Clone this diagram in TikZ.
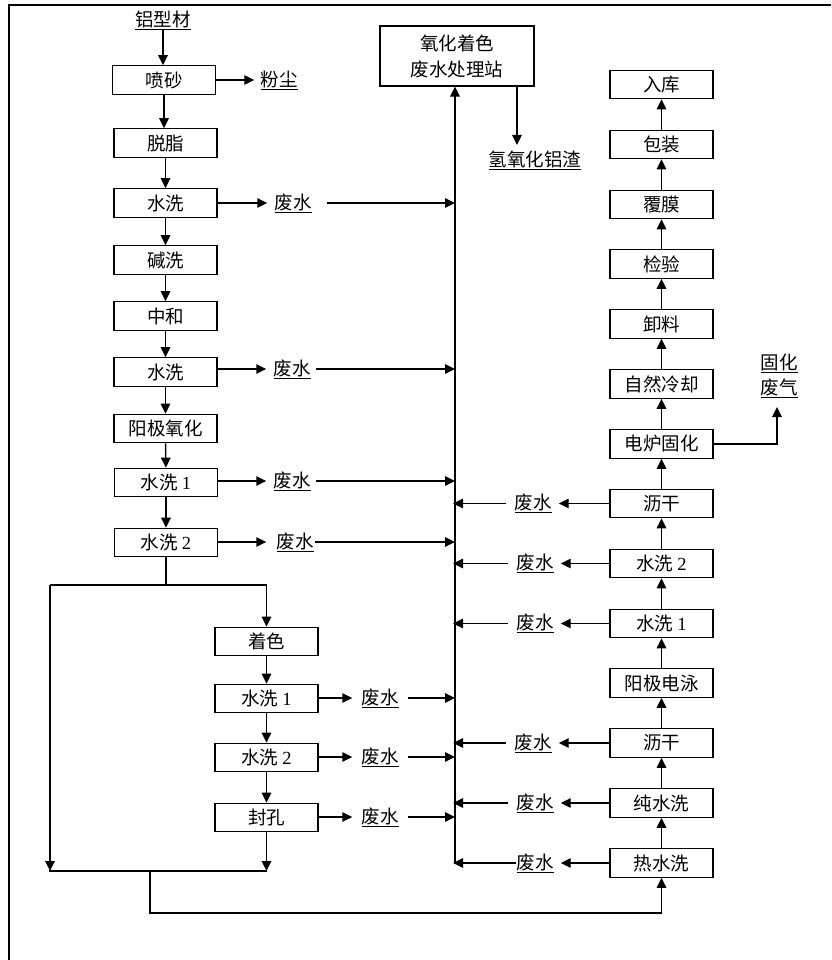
\documentclass[tikz,border=0pt]{standalone}
\usepackage{fontspec}
\setmainfont{Liberation Serif}
\newfontfamily\cjk{Noto Sans CJK SC}
\usetikzlibrary{arrows.meta}
\newcommand\numtxt[1]{{\rmfamily #1}}
\begin{document}
\begin{tikzpicture}[x=1pt,y=-1pt,
  pbox/.style={draw,line width=1.1pt,minimum width=103pt,minimum height=28.5pt,inner sep=0pt,font=\cjk\fontsize{18.5}{20}\selectfont},
  lbl/.style={inner sep=0pt,font=\cjk\fontsize{18.5}{20}\selectfont},
  ln/.style={line width=1.4pt},
  arr/.style={ln,-{Triangle[width=9.5pt,length=10pt]}}]
\useasboundingbox (0,0) rectangle (831,960);
% frame
\draw[line width=1.5pt] (9,960) -- (9,5) -- (831,5);

% left column
\node[lbl] (src) at (163,20) {\underline{铝型材}};
\node[pbox] (ps) at (164,80) {喷砂};
\node[pbox] (tz) at (165.5,143) {脱脂};
\node[pbox] (sa) at (165.5,203) {水洗};
\node[pbox] (jx) at (165.5,260) {碱洗};
\node[pbox] (zh) at (165.5,316) {中和};
\node[pbox] (sb) at (165.5,372) {水洗};
\node[pbox] (yj) at (165.5,428.5) {阳极氧化};
\node[pbox] (s1) at (166,482.5) {水洗 \numtxt{1}};
\node[pbox] (s2) at (166,542.5) {水洗 \numtxt{2}};

\node[lbl] (fc) at (279,80) {\underline{粉尘}};

% lower middle column
\node[pbox] (zs) at (266.5,641.5) {着色};
\node[pbox] (m1) at (266.5,698.5) {水洗 \numtxt{1}};
\node[pbox] (m2) at (266.5,757.5) {水洗 \numtxt{2}};
\node[pbox] (fk) at (266.5,817.5) {封孔};

% station
\node[pbox,minimum width=154pt,minimum height=60pt,align=center,font=\cjk\fontsize{18.5}{26}\selectfont] (st) at (457,56) {氧化着色\\废水处理站};
\node[lbl] (slag) at (535,160) {\underline{氢氧化铝渣}};

% right column
\node[pbox] (rk) at (661.5,84.5) {入库};
\node[pbox] (bz) at (661.5,144.5) {包装};
\node[pbox] (fm) at (661.5,204.5) {覆膜};
\node[pbox] (jy) at (661.5,264) {检验};
\node[pbox] (xl) at (661.5,324) {卸料};
\node[pbox] (zr) at (661.5,384) {自然冷却};
\node[pbox] (dl) at (661.5,444) {电炉固化};
\node[pbox] (la) at (661.5,503.5) {沥干};
\node[pbox] (r2) at (661.5,563.5) {水洗 \numtxt{2}};
\node[pbox] (r1) at (661.5,623.5) {水洗 \numtxt{1}};
\node[pbox] (yd) at (661.5,683) {阳极电泳};
\node[pbox] (lb) at (661.5,743) {沥干};
\node[pbox] (cs) at (661.5,803) {纯水洗};
\node[pbox] (rs) at (661.5,863) {热水洗};

\node[lbl] (gq1) at (779,363) {\underline{固化}};
\node[lbl] (gq2) at (779,388) {\underline{废气}};

% waste labels left
\node[lbl] (wa) at (293,203) {\underline{废水}};
\node[lbl] (wb) at (292,369) {\underline{废水}};
\node[lbl] (w1) at (292,481) {\underline{废水}};
\node[lbl] (w2) at (295,542) {\underline{废水}};
\node[lbl] (wm1) at (380,698) {\underline{废水}};
\node[lbl] (wm2) at (380,757) {\underline{废水}};
\node[lbl] (wfk) at (380,817) {\underline{废水}};
% waste labels right
\node[lbl] (wla) at (533,503.5) {\underline{废水}};
\node[lbl] (wr2) at (535,563.5) {\underline{废水}};
\node[lbl] (wr1) at (535,623.5) {\underline{废水}};
\node[lbl] (wlb) at (533,743) {\underline{废水}};
\node[lbl] (wcs) at (535,803) {\underline{废水}};
\node[lbl] (wrs) at (535,863) {\underline{废水}};

% coordinates
\coordinate (tb) at (455,863);
\coordinate (x517) at (517,145);
\coordinate (jA) at (166,585);
\coordinate (jL) at (50,585);
\coordinate (jR) at (266.5,585);
\coordinate (jLb) at (50,871);
\coordinate (jRb) at (266.5,871);
\coordinate (jM) at (150,871);
\coordinate (jMb) at (150,913);
\coordinate (fq) at (777,444);
\coordinate (fqt) at (777,407);

% main flow left
\draw[arr] (src) -- (ps.north -| src);
\draw[arr] (ps.south) -- (tz.north -| ps);
\draw[arr] (tz) -- (sa);
\draw[arr] (sa) -- (jx);
\draw[arr] (jx) -- (zh);
\draw[arr] (zh) -- (sb);
\draw[arr] (sb) -- (yj);
\draw[arr] (yj) -- (s1);
\draw[arr] (s1) -- (s2);
\draw[arr,shorten >=6pt] (ps.east) -- (fc.west);

% branch
\draw[ln] (s2.south) -- (jA);
\draw[ln] (jL) -- (jR);
\draw[arr] (jR) -- (zs.north);
\draw[arr] (jL) -- (jLb);
\draw[arr] (zs) -- (m1);
\draw[arr] (m1) -- (m2);
\draw[arr] (m2) -- (fk);
\draw[arr] (fk.south) -- (jRb);
\draw[ln] (49,871) -- (jRb);
\draw[arr] (jM) -- (jMb) -| (rs.south);

% right column up
\draw[arr] (rs) -- (cs);
\draw[arr] (cs) -- (lb);
\draw[arr] (lb) -- (yd);
\draw[arr] (yd) -- (r1);
\draw[arr] (r1) -- (r2);
\draw[arr] (r2) -- (la);
\draw[arr] (la) -- (dl);
\draw[arr] (dl) -- (zr);
\draw[arr] (zr) -- (xl);
\draw[arr] (xl) -- (jy);
\draw[arr] (jy) -- (fm);
\draw[arr] (fm) -- (bz);
\draw[arr] (bz) -- (rk);
\draw[arr] (dl.east) -- (fq) -- (fqt);

% trunk & station
\draw[arr] (tb) -- (st.south -| tb);
\draw[arr] (st.south -| x517) -- (x517);

% left waste
\draw[arr,shorten >=7pt] (sa.east) -- (wa.west);
\draw[arr,shorten <=15pt] (wa.east) -- (wa.east -| tb);
\draw[arr,shorten >=7pt] (sb.east |- wb) -- (wb.west);
\draw[arr,shorten <=5pt] (wb.east) -- (wb.east -| tb);
\draw[arr,shorten >=7pt] (s1.east |- w1) -- (w1.west);
\draw[arr,shorten <=5pt] (w1.east) -- (w1.east -| tb);
\draw[arr,shorten >=10pt] (s2.east |- w2) -- (w2.west);
\draw[arr,shorten <=1pt] (w2.east) -- (w2.east -| tb);
\draw[arr,shorten >=9pt] (m1.east |- wm1) -- (wm1.west);
\draw[arr,shorten <=9pt] (wm1.east) -- (wm1.east -| tb);
\draw[arr,shorten >=9pt] (m2.east |- wm2) -- (wm2.west);
\draw[arr,shorten <=9pt] (wm2.east) -- (wm2.east -| tb);
\draw[arr,shorten >=9pt] (fk.east |- wfk) -- (wfk.west);
\draw[arr,shorten <=9pt] (wfk.east) -- (wfk.east -| tb);

% right waste
\foreach \b/\w in {la/wla,r2/wr2,r1/wr1,lb/wlb,cs/wcs}{
  \draw[arr,shorten >=7pt] (\b.west) -- (\w.east);
  \draw[arr,shorten <=8pt,shorten >=-2pt] (\w.west) -- (\w.west -| tb);
}
\draw[arr,shorten >=7pt] (rs.west) -- (wrs.east);
\draw[arr,shorten >=-2pt] (wrs.west) -- (wrs.west -| tb);
\end{tikzpicture}
\end{document}
